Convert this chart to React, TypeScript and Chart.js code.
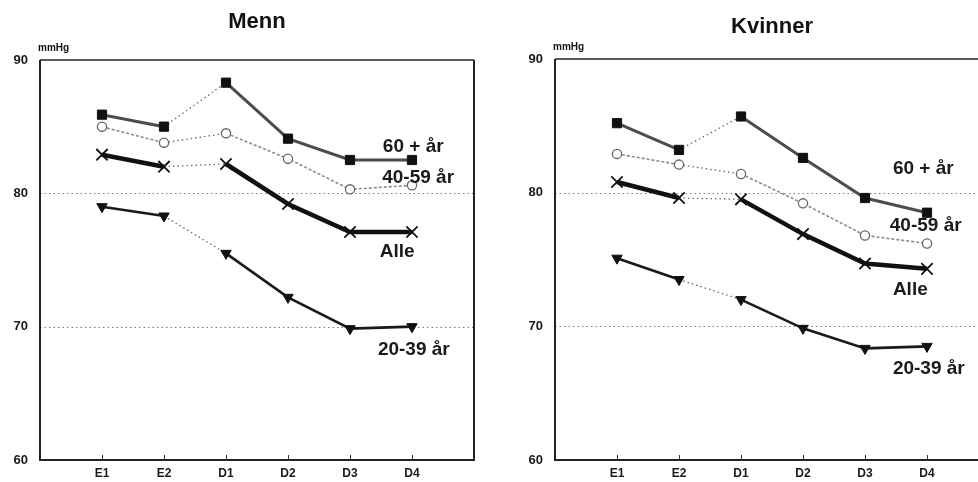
import React, { useEffect, useRef } from "react";
import { Chart, registerables } from "chart.js";

Chart.register(...registerables);

// Measurement points along the x axis (blank slots pad both ends of the frame)
const categories = ["", "E1", "E2", "D1", "D2", "D3", "D4", ""];
const yTicks = [60, 70, 80, 90];
const seriesNames = ["60 + år", "40-59 år", "Alle", "20-39 år"];
// The segment between these two surveys is drawn as a thin dotted link
const linkFrom = "E2";

// Menn (mmHg)
const menn60 = [null, 85.9, 85.0, 88.3, 84.1, 82.5, 82.5, null];
const menn40 = [null, 85.0, 83.8, 84.5, 82.6, 80.3, 80.6, null];
const mennAlle = [null, 82.9, 82.0, 82.2, 79.2, 77.1, 77.1, null];
const menn20 = [null, 79.0, 78.3, 75.5, 72.2, 69.85, 70.0, null];

// Kvinner (mmHg)
const kvinner60 = [null, 85.2, 83.2, 85.7, 82.6, 79.6, 78.5, null];
const kvinner40 = [null, 82.9, 82.1, 81.4, 79.2, 76.8, 76.2, null];
const kvinnerAlle = [null, 80.8, 79.6, 79.5, 76.9, 74.7, 74.3, null];
const kvinner20 = [null, 75.1, 73.5, 72.0, 69.85, 68.35, 68.5, null];

// Where each series name is written, in axis units [x index, mmHg]
const mennLabelAt = [
  [5.53, 83.5],
  [5.52, 81.2],
  [5.48, 75.6],
  [5.45, 68.3],
];
const kvinnerLabelAt = [
  [5.45, 81.8],
  [5.4, 77.5],
  [5.45, 72.7],
  [5.45, 66.8],
];

const FONT = "'Liberation Sans', Arial, Helvetica, sans-serif";

const seriesStyles = [
  { color: "#4d4d4d", width: 3, dash: [] as number[], point: "rect", radius: 6.5, fill: "#111", pColor: "#111", pWidth: 1, rotation: 0 },
  { color: "#8a8a8a", width: 1.6, dash: [3, 2], point: "circle", radius: 4.6, fill: "#fff", pColor: "#666", pWidth: 1.3, rotation: 0 },
  { color: "#111", width: 4.5, dash: [] as number[], point: "crossRot", radius: 8, fill: "#111", pColor: "#111", pWidth: 1.8, rotation: 0 },
  { color: "#1a1a1a", width: 2.6, dash: [] as number[], point: "triangle", radius: 6, fill: "#111", pColor: "#111", pWidth: 1, rotation: 180 },
];

type PanelProps = {
  title: string;
  titleY: number;
  series: (number | null)[][];
  labelAt: number[][];
  left: number;
  width: number;
  axisWidth: number;
  padTop: number;
  padRight: number;
};

function Panel({ title, titleY, series, labelAt, left, width, axisWidth, padTop, padRight }: PanelProps) {
  const ref = useRef<HTMLCanvasElement | null>(null);

  useEffect(() => {
    if (!ref.current) return;
    const linkIndex = categories.indexOf(linkFrom);

    const framePlugin = {
      id: "frame",
      beforeDatasetsDraw(chart: any) {
        const { ctx, chartArea: a, scales } = chart;
        const y = scales.y;
        const x = scales.x;
        ctx.save();
        // dotted reference lines
        ctx.strokeStyle = "#7a7a7a";
        ctx.lineWidth = 1;
        ctx.setLineDash([1.5, 3]);
        [70, 80].forEach((v) => {
          const py = Math.round(y.getPixelForValue(v)) + 0.5;
          ctx.beginPath();
          ctx.moveTo(a.left, py);
          ctx.lineTo(a.right, py);
          ctx.stroke();
        });
        ctx.setLineDash([]);
        // frame
        ctx.lineWidth = 2;
        ctx.strokeStyle = "#5a5a5a";
        ctx.beginPath();
        ctx.moveTo(a.left, a.top);
        ctx.lineTo(a.right, a.top);
        ctx.stroke();
        ctx.strokeStyle = "#222";
        ctx.beginPath();
        ctx.moveTo(a.left, a.top);
        ctx.lineTo(a.left, a.bottom);
        ctx.lineTo(a.right, a.bottom);
        ctx.lineTo(a.right, a.top);
        ctx.stroke();
        // inward tick marks on the x axis
        ctx.lineWidth = 1;
        ctx.strokeStyle = "#333";
        categories.forEach((c, i) => {
          if (!c) return;
          const px = Math.round(x.getPixelForValue(i)) + 0.5;
          ctx.beginPath();
          ctx.moveTo(px, a.bottom);
          ctx.lineTo(px, a.bottom - 5);
          ctx.stroke();
        });
        ctx.restore();
      },
      afterDatasetsDraw(chart: any) {
        const { ctx, chartArea: a, scales } = chart;
        ctx.save();
        ctx.fillStyle = "#111";
        ctx.textBaseline = "middle";
        // title
        ctx.font = `bold 22px ${FONT}`;
        ctx.textAlign = "center";
        ctx.fillText(title, (a.left + a.right) / 2, titleY);
        // unit
        ctx.font = `bold 10px ${FONT}`;
        ctx.textAlign = "left";
        ctx.fillText("mmHg", a.left - 2, a.top - 12);
        // series names
        ctx.font = `bold 19px ${FONT}`;
        ctx.fillStyle = "#1a1a1a";
        labelAt.forEach(([xv, yv], i) => {
          ctx.fillText(seriesNames[i], scales.x.getPixelForValue(xv), scales.y.getPixelForValue(yv));
        });
        ctx.restore();
      },
    };

    const datasets = series.map((data, i) => {
      const s = seriesStyles[i];
      return {
        label: seriesNames[i],
        data,
        borderColor: s.color,
        borderWidth: s.width,
        borderDash: s.dash,
        pointStyle: s.point,
        pointRadius: s.radius,
        pointBackgroundColor: s.fill,
        pointBorderColor: s.pColor,
        pointBorderWidth: s.pWidth,
        pointRotation: s.rotation,
        tension: 0,
        spanGaps: false,
        segment: {
          borderDash: (ctx: any) => (ctx.p0DataIndex === linkIndex ? [1.5, 3] : s.dash),
          borderWidth: (ctx: any) => (ctx.p0DataIndex === linkIndex ? 1.3 : s.width),
          borderColor: (ctx: any) => (ctx.p0DataIndex === linkIndex ? "#6a6a6a" : s.color),
        },
      };
    });

    const chart = new Chart(ref.current, {
      type: "line",
      data: { labels: categories, datasets },
      options: {
        responsive: false,
        animation: false,
        layout: { padding: { top: padTop, right: padRight, left: 0, bottom: 0 } },
        plugins: { legend: { display: false }, tooltip: { enabled: false } },
        scales: {
          x: {
            type: "category",
            offset: false,
            grid: { display: false, drawTicks: false },
            border: { display: false },
            ticks: {
              color: "#1a1a1a",
              font: { family: FONT, size: 12, weight: "bold" },
              padding: 6,
              autoSkip: false,
              maxRotation: 0,
            },
            afterFit(scale: any) {
              scale.height = 22;
            },
          },
          y: {
            min: 60,
            max: 90,
            afterBuildTicks(scale: any) {
              scale.ticks = yTicks.map((v) => ({ value: v }));
            },
            grid: { display: false, drawTicks: false },
            border: { display: false },
            ticks: {
              color: "#1a1a1a",
              font: { family: FONT, size: 13, weight: "bold" },
              padding: 12,
            },
            afterFit(scale: any) {
              scale.width = axisWidth;
            },
          },
        },
      } as any,
      plugins: [framePlugin],
    });
    return () => chart.destroy();
  }, []);

  return (
    <canvas
      ref={ref}
      width={width}
      height={482}
      style={{ position: "absolute", left, top: 0, width, height: 482 }}
    />
  );
}

export default function App() {
  return (
    <div
      style={{
        position: "fixed",
        left: 0,
        top: 0,
        width: 978,
        height: 482,
        overflow: "hidden",
        background: "#fff",
      }}
    >
      <Panel
        title="Menn"
        titleY={22}
        series={[menn60, menn40, mennAlle, menn20]}
        labelAt={mennLabelAt}
        left={0}
        width={490}
        axisWidth={40}
        padTop={60}
        padRight={16}
      />
      <Panel
        title="Kvinner"
        titleY={27}
        series={[kvinner60, kvinner40, kvinnerAlle, kvinner20]}
        labelAt={kvinnerLabelAt}
        left={500}
        width={500}
        axisWidth={55}
        padTop={59}
        padRight={11}
      />
    </div>
  );
}
